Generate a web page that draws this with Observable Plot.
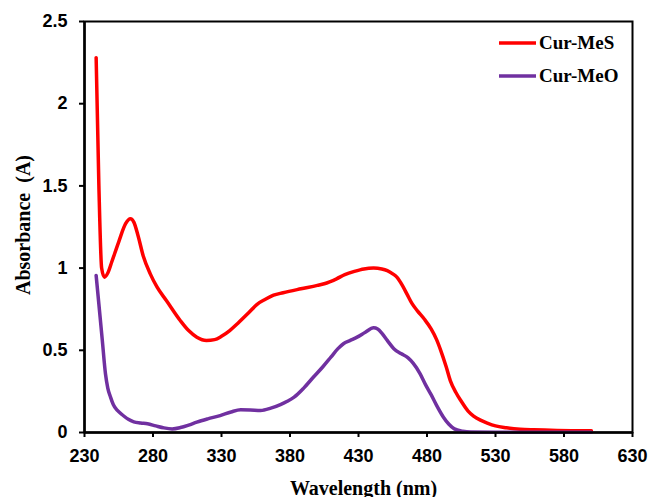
<!DOCTYPE html>
<html>
<head>
<meta charset="utf-8">
<script src="https://cdn.jsdelivr.net/npm/d3@7"></script>
<script src="https://cdn.jsdelivr.net/npm/@observablehq/plot@0.6"></script>
<style>
  html, body { margin: 0; padding: 0; background: #fff; }
  #wrap { position: relative; width: 649px; height: 497px; overflow: hidden; }
  #legend { position: absolute; left: 499px; top: 31px; font-family: "Liberation Serif", "Times New Roman", serif; font-weight: bold; font-size: 19px; color: #000; }
  .item { display: flex; align-items: center; height: 24px; margin-bottom: 9px; }
  .item svg { margin-right: 3px; }
</style>
</head>
<body>
<div id="wrap"><div id="legend"></div></div>
<script>
const seriesNames = ["Cur-MeS", "Cur-MeO"];
const seriesColors = ["#ff0000", "#7030a0"];

const mesWavelength = [238.5, 240.5, 242.5, 244.5, 247, 250, 255, 260, 263.5, 266, 269, 273, 278, 283, 290, 300, 306, 312, 319, 325, 330, 336, 342, 350, 356, 362, 368, 375, 388, 400, 405, 414, 420, 427, 434, 441, 447, 451, 455, 458, 462, 465.5, 469, 473, 478, 483, 487, 490, 494, 497, 501, 505, 510, 514, 519, 524, 530, 538, 548, 558, 575, 600];
const mesAbsorbance = [2.28, 1.5, 1.0, 0.945, 0.97, 1.04, 1.16, 1.27, 1.30, 1.28, 1.2, 1.07, 0.965, 0.884, 0.80, 0.68, 0.62, 0.58, 0.56, 0.565, 0.585, 0.62, 0.665, 0.73, 0.78, 0.81, 0.835, 0.85, 0.874, 0.895, 0.905, 0.935, 0.96, 0.98, 0.995, 1.0, 0.995, 0.985, 0.965, 0.945, 0.895, 0.84, 0.785, 0.74, 0.69, 0.63, 0.565, 0.50, 0.40, 0.316, 0.245, 0.19, 0.13, 0.10, 0.075, 0.057, 0.04, 0.029, 0.02, 0.016, 0.012, 0.01];

const meoWavelength = [238.5, 240.5, 243, 245.3, 247, 249, 251, 254, 258, 262, 266, 271, 276, 282, 288, 294, 300, 306, 312, 320, 329, 337, 344, 351, 358.5, 366, 373, 378, 383, 390, 397, 404, 410, 415, 419, 424, 429, 435, 441, 444, 447, 451, 455.8, 461, 466, 470, 475, 479, 483, 487, 492, 496, 500, 506, 512, 530, 560, 600];
const meoAbsorbance = [0.955, 0.78, 0.56, 0.357, 0.27, 0.215, 0.17, 0.134, 0.105, 0.08, 0.065, 0.058, 0.053, 0.04, 0.028, 0.022, 0.03, 0.045, 0.063, 0.083, 0.103, 0.125, 0.138, 0.137, 0.134, 0.148, 0.17, 0.19, 0.215, 0.27, 0.336, 0.40, 0.46, 0.51, 0.54, 0.56, 0.58, 0.61, 0.637, 0.63, 0.605, 0.56, 0.51, 0.48, 0.455, 0.42, 0.357, 0.29, 0.23, 0.165, 0.093, 0.05, 0.022, 0.008, 0.003, 0.002, 0.002, 0.002];

const xTicks = [230, 280, 330, 380, 430, 480, 530, 580, 630];
const yTicks = [0, 0.5, 1, 1.5, 2, 2.5];
const yTickLabels = ["0", "0.5", "1", "1.5", "2", "2.5"];
const xTitle = "Wavelength (nm)";
const yTitle = "Absorbance  (A)";

const rows = [];
mesWavelength.forEach((w, i) => rows.push({series: seriesNames[0], w, a: mesAbsorbance[i]}));
meoWavelength.forEach((w, i) => rows.push({series: seriesNames[1], w, a: meoAbsorbance[i]}));

const tickFont = {fontFamily: "'Liberation Sans', Arial, sans-serif", fontWeight: "bold", fontSize: 18};
const titleFont = {fontFamily: "'Liberation Serif', 'Times New Roman', serif", fontWeight: "bold", fontSize: 20};

const chart = Plot.plot({
  width: 649,
  height: 497,
  marginLeft: 84,
  marginRight: 17,
  marginTop: 21,
  marginBottom: 65,
  style: {background: "#fff", color: "#000", overflow: "visible"},
  x: {domain: [230, 630]},
  y: {domain: [0, 2.5]},
  color: {domain: seriesNames, range: seriesColors},
  marks: [
    Plot.frame({stroke: "#000", strokeWidth: 2}),
    Plot.line(rows, {x: "w", y: "a", z: "series", stroke: "series", strokeWidth: 3.5, curve: "monotone-x"}),
    Plot.ruleX([230], {stroke: "#000", strokeWidth: 2.5}),
    Plot.ruleY([0], {stroke: "#000", strokeWidth: 2.5}),
    Plot.axisX({ticks: xTicks, tickFormat: d => String(d), tickSize: 5, tickPadding: 12, strokeWidth: 2, label: null, ...tickFont}),
    Plot.axisY({ticks: yTicks, tickFormat: (d, i) => yTickLabels[yTicks.indexOf(d)], tickSize: 5, tickPadding: 12, strokeWidth: 2, label: null, ...tickFont}),
    Plot.text([xTitle], {frameAnchor: "bottom", lineAnchor: "bottom", textAnchor: "middle", dx: 5, dy: 62, text: d => d, ...titleFont}),
    Plot.text([yTitle], {frameAnchor: "left", lineAnchor: "middle", textAnchor: "middle", rotate: -90, dx: -61, dy: -2, text: d => d, ...titleFont})
  ]
});
const wrap = document.getElementById("wrap");
wrap.insertBefore(chart, wrap.firstChild);

const legend = document.getElementById("legend");
seriesNames.forEach((name, i) => {
  const item = document.createElement("div");
  item.className = "item";
  item.innerHTML = `<svg width="37" height="6"><line x1="0" y1="3" x2="37" y2="3" stroke="${seriesColors[i]}" stroke-width="3.5"/></svg><span>${name}</span>`;
  legend.appendChild(item);
});
</script>
</body>
</html>
